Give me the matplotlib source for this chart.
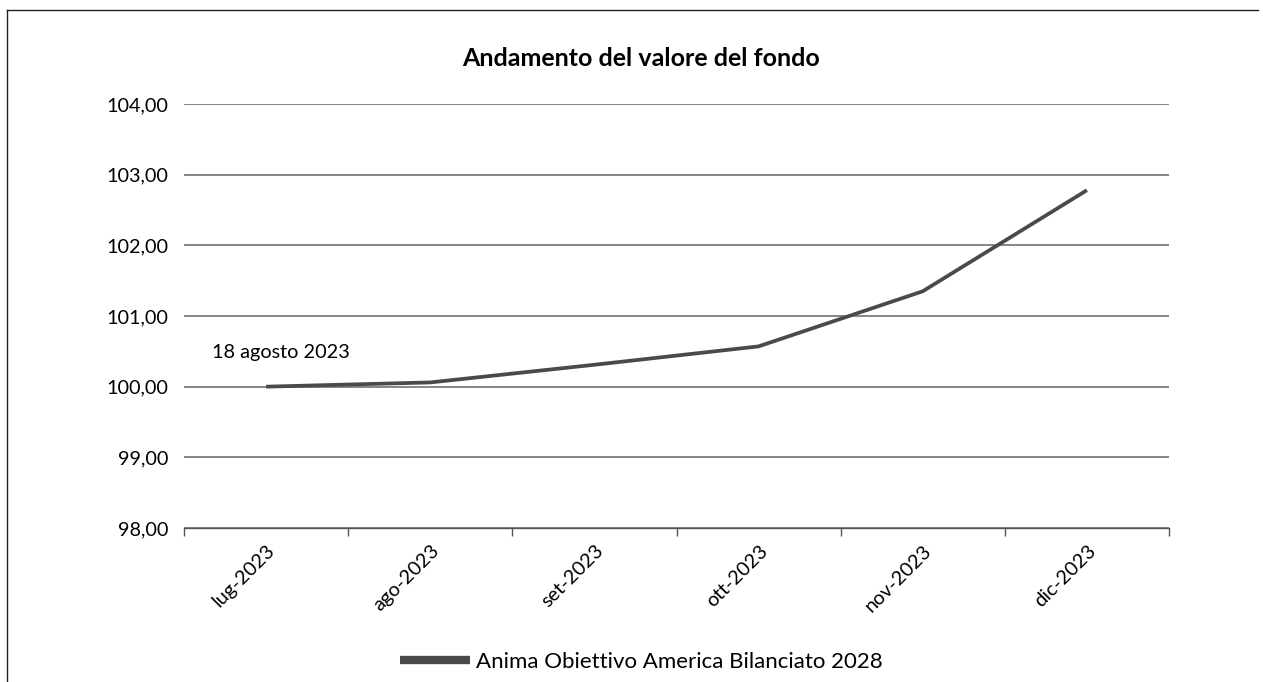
import matplotlib
matplotlib.use("Agg")
import matplotlib.pyplot as plt
from matplotlib.lines import Line2D
from matplotlib.ticker import FixedLocator, FuncFormatter

plt.rcParams['font.family'] = ['Lato', 'DejaVu Sans']

categories = ["lug-2023", "ago-2023", "set-2023", "ott-2023", "nov-2023", "dic-2023"]
values = [100.00, 100.06, 100.31, 100.57, 101.35, 102.78]
series_name = "Anima Obiettivo America Bilanciato 2028"
title = "Andamento del valore del fondo"
annotation = "18 agosto 2023"
yticks = [98, 99, 100, 101, 102, 103, 104]

W, H = 1263, 682
fig = plt.figure(figsize=(W / 100, H / 100), dpi=100)
ax = fig.add_axes([184 / W, 1 - 528 / H, (1169 - 184) / W, (528 - 104) / H])

x = list(range(len(categories)))
line_color = "#4a4a4a"
ax.plot(x, values, color=line_color, lw=2.7, solid_capstyle='butt', zorder=3)

ax.set_xlim(-0.5, len(categories) - 0.5)
ax.set_ylim(98, 104)
ax.set_yticks(yticks)
ax.yaxis.set_major_formatter(FuncFormatter(lambda v, p: f"{v:.2f}".replace(".", ",")))
ax.grid(axis='y', color="#666666", lw=1.1)
ax.set_axisbelow(True)

ax.set_xticks(x)
ax.set_xticklabels(categories, rotation=45, ha='right', rotation_mode='anchor', fontsize=14.3)
ax.xaxis.set_minor_locator(FixedLocator([i - 0.5 for i in range(len(categories) + 1)]))
ax.tick_params(axis='x', which='major', length=0, pad=10)
ax.tick_params(axis='x', which='minor', length=6, color="#555555", width=1)
ax.tick_params(axis='y', length=0, pad=11, labelsize=14.3)

for s in ['top', 'right', 'left']:
    ax.spines[s].set_visible(False)
ax.spines['bottom'].set_color("#555555")
ax.spines['bottom'].set_linewidth(1.0)

ax.text(-0.33, 100.49, annotation, fontsize=14.3, ha='left', va='center')

fig.text(641 / W, 1 - 58 / H, title, fontsize=18, fontweight='bold', ha='center', va='center')

handle = Line2D([], [], color=line_color, lw=6, solid_capstyle='butt')
fig.legend([handle], [series_name], loc='center', bbox_to_anchor=(641 / W, 1 - 662 / H),
           frameon=False, fontsize=16, handlelength=3.15, handletextpad=0.27)

# outer frame (left and top)
fig.add_artist(Line2D([7 / W, 7 / W], [0, 1 - 10 / H], color="#222222", lw=1, transform=fig.transFigure))
fig.add_artist(Line2D([7 / W, 1258 / W], [1 - 10 / H, 1 - 10 / H], color="#222222", lw=1, transform=fig.transFigure))

fig.savefig("out.png", dpi=100)
